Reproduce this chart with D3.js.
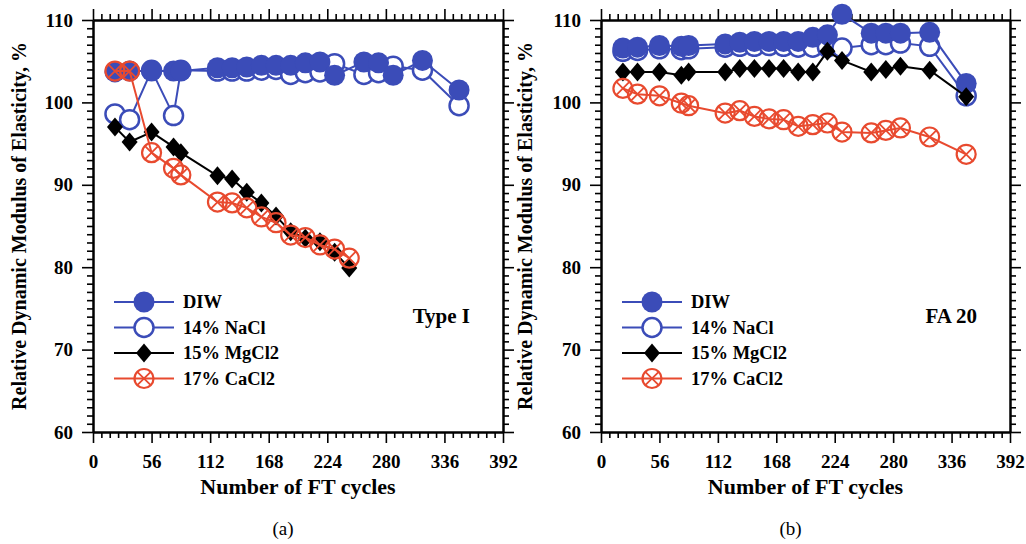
<!DOCTYPE html>
<html><head><meta charset="utf-8">
<script src="https://cdn.jsdelivr.net/npm/d3@7"></script>
<style>body{margin:0;background:#fff}svg{display:block}</style>
</head><body>
<svg id="chart" width="1026" height="544"></svg>
<script>
// ---- data ----
const cycles = [21, 35, 56, 77, 84, 119, 133, 147, 161, 175, 189, 203, 217, 231, 259, 273, 287, 315, 350];
const cyclesShort = [21, 35, 56, 77, 84, 119, 133, 147, 161, 175, 189, 203, 217, 231, 245];
const seriesNames = ["DIW", "14% NaCl", "15% MgCl2", "17% CaCl2"];
const xTicks = [0, 56, 112, 168, 224, 280, 336, 392];
const yTicks = [60, 70, 80, 90, 100, 110];

// Panel (a) Type I
const aDIW  = [103.7,103.8,103.8,103.8,103.8,104.2,104.2,104.3,104.5,104.5,104.5,104.8,104.9,103.3,104.9,104.8,103.3,105.1,101.5];
const aNaCl = [98.6,97.9,103.9,98.4,103.9,103.8,103.8,103.8,103.9,104.0,103.4,103.6,103.7,104.7,103.4,103.6,104.4,103.9,99.6];
const aMg   = [97.0,95.2,96.4,94.6,93.9,91.1,90.7,89.1,87.8,86.2,84.3,83.5,83.1,81.8,79.9];
const aCa   = [103.8,103.8,93.9,92.0,91.2,87.9,87.8,87.2,86.1,85.4,83.9,83.6,82.7,82.2,81.1];

// Panel (b) FA 20
const bDIW  = [106.6,106.7,106.9,106.8,106.9,107.1,107.3,107.4,107.4,107.4,107.4,107.9,108.2,110.7,108.4,108.4,108.4,108.5,102.3];
const bNaCl = [106.2,106.3,106.5,106.4,106.5,106.7,106.8,106.8,106.9,106.8,106.7,106.7,106.7,106.6,107.0,107.0,107.2,106.8,100.8];
const bMg   = [103.7,103.7,103.7,103.3,103.7,103.7,104.1,104.1,104.1,104.1,103.7,103.7,106.2,105.1,103.7,104.0,104.4,103.9,100.7];
const bCa   = [101.7,101.0,100.8,99.9,99.6,98.7,99.0,98.3,98.0,97.9,97.1,97.3,97.5,96.4,96.3,96.6,96.9,95.8,93.7];

const BLUE = "#3b4cb8", RED = "#e84a2f", BLACK = "#000";
const FONT = "'Liberation Serif','Times New Roman',serif";

const svg = d3.select("#chart");

const panels = [
  {x0: 93, x1: 503, label: "Type I", cap: "(a)", ytitleX: 26,
   series: [
     {name: seriesNames[1], xs: cycles, ys: aNaCl, type: "open", color: BLUE},
     {name: seriesNames[0], xs: cycles, ys: aDIW, type: "filled", color: BLUE},
     {name: seriesNames[2], xs: cyclesShort, ys: aMg, type: "diamond", color: BLACK},
     {name: seriesNames[3], xs: cyclesShort, ys: aCa, type: "cross", color: RED}
   ]},
  {x0: 601, x1: 1010, label: "FA 20", cap: "(b)", ytitleX: 532,
   series: [
     {name: seriesNames[1], xs: cycles, ys: bNaCl, type: "open", color: BLUE},
     {name: seriesNames[0], xs: cycles, ys: bDIW, type: "filled", color: BLUE},
     {name: seriesNames[2], xs: cycles, ys: bMg, type: "diamond", color: BLACK},
     {name: seriesNames[3], xs: cycles, ys: bCa, type: "cross", color: RED}
   ]}
];

function drawMarker(g, type, color, cx, cy) {
  if (type === "filled") {
    g.append("circle").attr("cx", cx).attr("cy", cy).attr("r", 10.5).attr("fill", color);
  } else if (type === "open") {
    g.append("circle").attr("cx", cx).attr("cy", cy).attr("r", 9.5)
      .attr("fill", "#fff").attr("stroke", color).attr("stroke-width", 2.5);
  } else if (type === "diamond") {
    const w = 8, h = 9.5;
    g.append("path").attr("d", `M${cx},${cy-h}L${cx+w},${cy}L${cx},${cy+h}L${cx-w},${cy}Z`).attr("fill", color);
  } else if (type === "cross") {
    const r = 9.5, d = r * Math.SQRT1_2;
    g.append("circle").attr("cx", cx).attr("cy", cy).attr("r", r)
      .attr("fill", "none").attr("stroke", color).attr("stroke-width", 2.2);
    g.append("path").attr("d", `M${cx-d},${cy-d}L${cx+d},${cy+d}M${cx-d},${cy+d}L${cx+d},${cy-d}`)
      .attr("stroke", color).attr("stroke-width", 1.8);
  }
}

panels.forEach(p => {
  const x = d3.scaleLinear().domain([0, 392]).range([p.x0, p.x1]);
  const y = d3.scaleLinear().domain([60, 110]).range([432, 20]);
  const g = svg.append("g");

  const minorX = d3.range(0, 393, 8).filter(v => v % 56 !== 0);
  const minorY = d3.range(60, 111, 1).filter(v => v % 10 !== 0);

  function styleAxis(sel) {
    sel.select(".domain").attr("stroke", "#000").attr("stroke-width", 2);
    sel.selectAll(".tick line").attr("stroke", "#000").attr("stroke-width", 1.6);
    sel.selectAll("text").attr("font-family", FONT).attr("font-weight", "bold")
      .attr("font-size", 19).attr("fill", "#000");
  }

  // bottom
  g.append("g").attr("transform", `translate(0,432)`)
    .call(d3.axisBottom(x).tickValues(minorX).tickSize(6).tickSizeOuter(0).tickFormat(""))
    .call(styleAxis);
  g.append("g").attr("transform", `translate(0,432)`)
    .call(d3.axisBottom(x).tickValues(xTicks).tickSize(11).tickSizeOuter(0).tickPadding(12).tickFormat(d3.format("d")))
    .call(styleAxis);
  // top
  g.append("g").attr("transform", `translate(0,20)`)
    .call(d3.axisTop(x).tickValues(minorX).tickSize(6).tickSizeOuter(0).tickFormat(""))
    .call(styleAxis);
  g.append("g").attr("transform", `translate(0,20)`)
    .call(d3.axisTop(x).tickValues(xTicks).tickSize(11).tickSizeOuter(0).tickFormat(""))
    .call(styleAxis);
  // left
  g.append("g").attr("transform", `translate(${p.x0},0)`)
    .call(d3.axisLeft(y).tickValues(minorY).tickSize(6).tickSizeOuter(0).tickFormat(""))
    .call(styleAxis);
  g.append("g").attr("transform", `translate(${p.x0},0)`)
    .call(d3.axisLeft(y).tickValues(yTicks).tickSize(11).tickSizeOuter(0).tickPadding(9).tickFormat(d3.format("d")))
    .call(styleAxis);
  // right
  g.append("g").attr("transform", `translate(${p.x1},0)`)
    .call(d3.axisRight(y).tickValues(minorY).tickSize(6).tickSizeOuter(0).tickFormat(""))
    .call(styleAxis);
  g.append("g").attr("transform", `translate(${p.x1},0)`)
    .call(d3.axisRight(y).tickValues(yTicks).tickSize(11).tickSizeOuter(0).tickFormat(""))
    .call(styleAxis);

  // titles
  g.append("text").attr("x", (p.x0 + p.x1) / 2).attr("y", 494).attr("text-anchor", "middle")
    .attr("font-family", FONT).attr("font-weight", "bold").attr("font-size", 22)
    .text("Number of FT cycles");
  g.append("text").attr("transform", `translate(${p.ytitleX},226) rotate(-90)`).attr("text-anchor", "middle")
    .attr("font-family", FONT).attr("font-weight", "bold").attr("font-size", 20)
    .text("Relative Dynamic Modulus of Elasticity, %");
  g.append("text").attr("x", (p.x0 + p.x1) / 2 - 15).attr("y", 535).attr("text-anchor", "middle")
    .attr("font-family", FONT).attr("font-size", 19)
    .text(p.cap);
  g.append("text").attr("x", p.x1 - 33).attr("y", 323).attr("text-anchor", "end")
    .attr("font-family", FONT).attr("font-weight", "bold").attr("font-size", 21)
    .text(p.label);

  // series
  const line = d3.line().x(d => x(d[0])).y(d => y(d[1]));
  p.series.forEach(s => {
    const pts = s.xs.map((c, i) => [c, s.ys[i]]);
    const sg = g.append("g");
    sg.append("path").attr("d", line(pts)).attr("fill", "none")
      .attr("stroke", s.color).attr("stroke-width", 2);
    pts.forEach(d => drawMarker(sg, s.type, s.color, x(d[0]), y(d[1])));
  });

  // legend
  const legOrder = [p.series[1], p.series[0], p.series[2], p.series[3]];
  const lx0 = p.x0 + 21, lx1 = p.x0 + 81, ly0 = 302, dy = 25.5;
  legOrder.forEach((s, i) => {
    const ly = ly0 + i * dy;
    const lg = g.append("g");
    lg.append("line").attr("x1", lx0).attr("x2", lx1).attr("y1", ly).attr("y2", ly)
      .attr("stroke", s.color).attr("stroke-width", 2);
    drawMarker(lg, s.type, s.color, (lx0 + lx1) / 2, ly);
    lg.append("text").attr("x", lx1 + 9).attr("y", ly + 6)
      .attr("font-family", FONT).attr("font-weight", "bold").attr("font-size", 18.5)
      .text(s.name);
  });
});
</script>
</body></html>
